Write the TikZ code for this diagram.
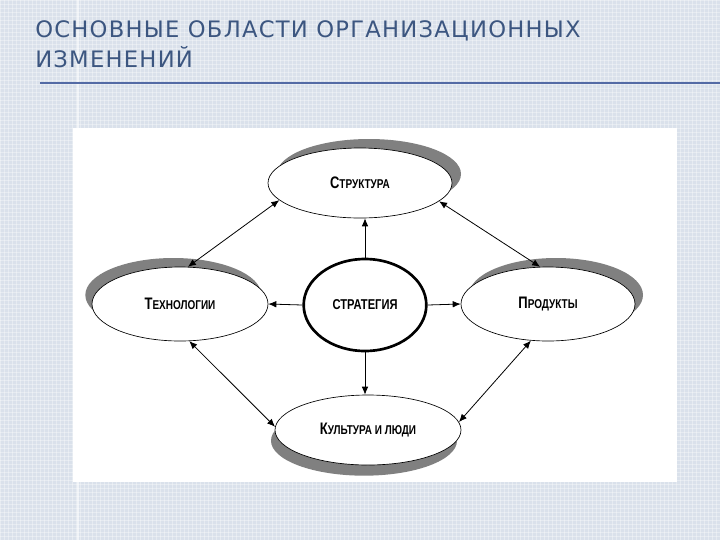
\documentclass[tikz,border=0pt]{standalone}
\usepackage{fontspec}
\usepackage{graphicx}
\setmainfont{Liberation Sans}
\newfontfamily\titlefont[LetterSpace=5.5]{DejaVu Sans}
\usetikzlibrary{shapes.geometric,arrows.meta,shadows}
\definecolor{bgc}{RGB}{218,225,235}
\definecolor{titlec}{RGB}{60,86,128}
\definecolor{rulec}{RGB}{84,107,165}
\definecolor{shadowc}{RGB}{128,128,128}
\newcommand\capa[2]{\scalebox{0.78}[1]{\bfseries{\fontsize{12.5}{12.5}\selectfont #1}{\fontsize{9.6}{9.6}\selectfont #2}}}
\tikzset{
  area/.style={ellipse, draw, line width=0.5pt, fill=white, inner sep=0pt},
  shup/.style={drop shadow={shadow xshift=#1, shadow yshift=6.75pt, fill=shadowc, opacity=1}},
  shdown/.style={drop shadow={shadow xshift=-3pt, shadow yshift=-8pt, fill=shadowc, opacity=1}},
  conn/.style={line width=0.6pt, -{Latex[length=6pt,width=5pt]}},
  biconn/.style={line width=0.6pt, {Latex[length=6pt,width=5pt]}-{Latex[length=6pt,width=5pt]}},
  gridline/.style={white, opacity=0.35, line width=0.3pt}
}
\begin{document}
\begin{tikzpicture}[x=0.75pt,y=-0.75pt]
\useasboundingbox (0,0) rectangle (720,540);
\fill[bgc] (0,0) rectangle (720,540);
\foreach \i in {0,4,...,720} \draw[gridline] (\i,0) -- (\i,540);
\foreach \j in {0,4,...,540} \draw[gridline] (0,\j) -- (720,\j);
\draw[white, opacity=0.6, line width=0.8pt] (78,0) -- (78,540);
% title
\node[anchor=base west, inner sep=0pt, text=titlec, font=\titlefont\fontsize{17}{17}\selectfont] (t1) at (35,37) {ОСНОВНЫЕ ОБЛАСТИ ОРГАНИЗАЦИОННЫХ};
\node[anchor=base west, inner sep=0pt, text=titlec, font=\titlefont\fontsize{17}{17}\selectfont] (t2) at (35,67) {ИЗМЕНЕНИЙ};
\coordinate (r1) at (40,83);
\coordinate (r2) at (720,83);
\draw[rulec, line width=1.5pt] (r1) -- (r2);
% white panel
\fill[white] (73,128) rectangle (677,482);
% nodes
\node[area, minimum width=138pt, minimum height=52.5pt, shup=6.75pt] (S) at (360,183) {\capa{С}{ТРУКТУРА}};
\node[area, minimum width=132pt, minimum height=55.5pt, shup=-5pt] (T) at (180,304) {\capa{Т}{ЕХНОЛОГИИ}};
\node[area, minimum width=130.5pt, minimum height=55.5pt, shup=6pt] (P) at (548,304) {\capa{П}{РОДУКТЫ}};
\node[area, minimum width=139.5pt, minimum height=52.5pt, shdown] (K) at (368,430) {\capa{К}{УЛЬТУРА И ЛЮДИ}};
\node[ellipse, draw, line width=2pt, fill=white, inner sep=0pt, minimum width=92pt, minimum height=69pt] (C) at (365,305) {\scalebox{0.78}[1]{\bfseries\fontsize{10.7}{10.7}\selectfont СТРАТЕГИЯ}};
% connectors
\draw[conn] (C.north) -- (S.south -| C.north);
\draw[conn] (C.south) -- (K.north -| C.south);
\draw[conn] (C.east) -- (P.west);
\draw[conn] (C.west) -- (T.east);
\draw[biconn] (T.78) -- (S.192);
\draw[biconn] (S.-13) -- (P.102);
\draw[biconn] (T.-76) -- (K.178);
\draw[biconn] (P.245) -- (K.5);
\end{tikzpicture}
\end{document}
